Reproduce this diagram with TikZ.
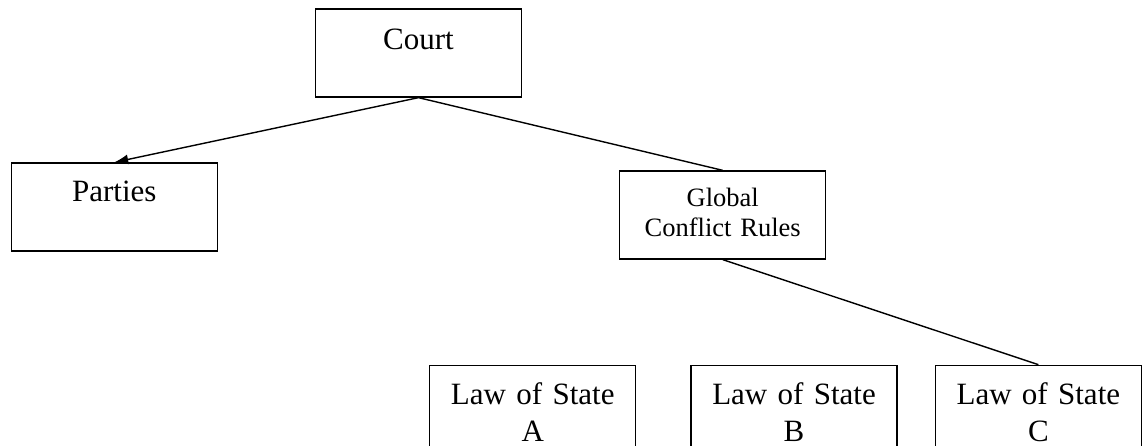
\documentclass[tikz,border=0pt]{standalone}
\usepackage{fontspec}
\setmainfont{Liberation Serif}
\usetikzlibrary{positioning, arrows.meta}

\begin{document}
\begin{tikzpicture}[x=1pt, y=-1pt, level distance=154pt, sibling distance=608.5pt,
  every node/.style = {shape=rectangle, draw, line width=1.3pt, inner sep=0pt, text width=206pt, align=center,
    text height=39pt, text depth=49pt, font=\fontsize{31}{37}\selectfont},
  edge from parent/.style = {draw, line width=1.4pt},
  edge from parent path = {(\tikzparentnode.south) -- (\tikzchildnode.north)}]
  \useasboundingbox (0,0) rectangle (1142,446);
  \node[text height=41pt, text depth=47pt] (court) at (418.5,53) {Court}
    child { node (parties) {Parties}
      edge from parent [-{Latex[length=14pt, width=10pt]}] }
    child { node[yshift=-8pt, text height=36pt, text depth=52pt, font=\fontsize{26.5}{30}\selectfont] (global) {Global\\Conflict Rules} };
  \node[below=105pt of global, xshift=-190pt] (lawA) {Law of State\\A};
  \node[right=54pt of lawA] (lawB) {Law of State\\B};
  \node[right=37pt of lawB] (lawC) {Law of State\\C};
  \draw[line width=1.4pt] (global.south) -- (lawC.north);
\end{tikzpicture}
\end{document}
